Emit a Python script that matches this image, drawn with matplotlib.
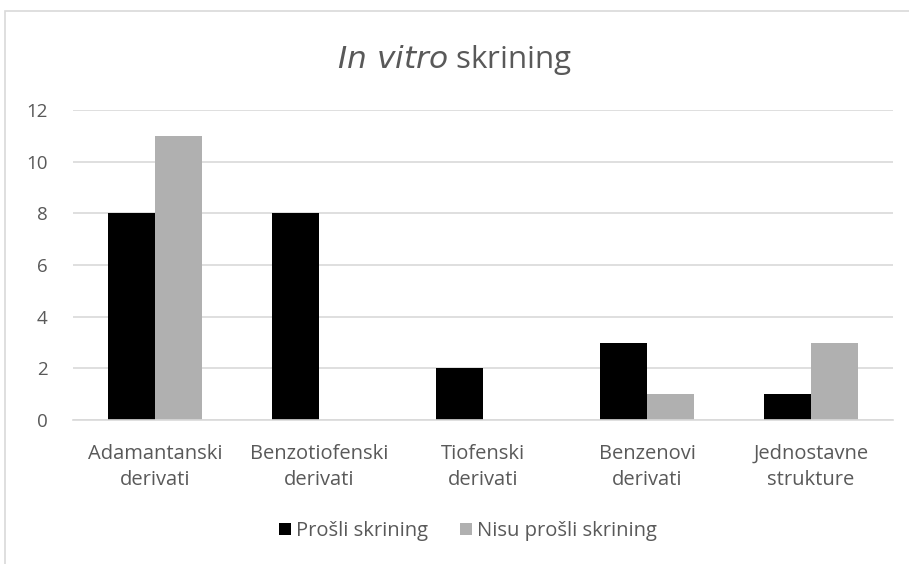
import numpy as np
import matplotlib
matplotlib.use('Agg')
import matplotlib.pyplot as plt
from matplotlib.patches import Rectangle

# ── Data ──────────────────────────────────────────────────────────────────────
categories = ['Adamantanski\nderivati', 'Benzotiofenski\nderivati', 'Tiofenski\nderivati',
              'Benzenovi\nderivati', 'Jednostavne\nstrukture']
passed = [8, 8, 2, 3, 1]
failed = [11, 0, 0, 1, 3]
series_names = ['Prošli skrining', 'Nisu prošli skrining']
yticks = [0, 2, 4, 6, 8, 10, 12]

plt.rcParams['font.family'] = ['Open Sans', 'DejaVu Sans']
txt = '#595959'
grid = '#D9D9D9'

fig = plt.figure(figsize=(9.09, 5.64), dpi=100)
# chart frame (Excel-style light border, cropped at right/bottom)
fig.patches.append(Rectangle((5 / 909, -0.1), 1.1, (564 - 11) / 564 + 0.1,
                             transform=fig.transFigure, fill=False,
                             edgecolor=grid, lw=1.2))

ax = fig.add_axes([73 / 909, (564 - 420) / 564, (893 - 73) / 909, (420 - 110) / 564])
x = np.arange(len(categories))
w = 0.285
ax.bar(x - w / 2, passed, w, color='black', label=series_names[0])
ax.bar(x + w / 2, failed, w, color='#B0B0B0', label=series_names[1])

ax.set_xlim(-0.5, len(categories) - 0.5)
ax.set_ylim(0, 12)
ax.set_yticks(yticks)
ax.yaxis.grid(True, color=grid, lw=1.2)
ax.set_axisbelow(True)
for s in ['top', 'right', 'left']:
    ax.spines[s].set_visible(False)
ax.spines['bottom'].set_color(grid)
ax.spines['bottom'].set_linewidth(1.2)
ax.tick_params(length=0, colors=txt)
ax.tick_params(axis='y', pad=18.5, labelsize=13.5)
ax.tick_params(axis='x', pad=17, labelsize=14.5)
ax.set_xticks(x)
ax.set_xticklabels(categories, linespacing=1.45)

fig.text(455 / 909, 1 - 68 / 564, r'$\it{In\ vitro}$ skrining', ha='center', va='baseline',
         fontsize=22.5, color=txt)

ax.legend(loc='center', bbox_to_anchor=(468 / 909, 1 - 531 / 564),
          bbox_transform=fig.transFigure, ncol=2, frameon=False,
          fontsize=14.5, labelcolor=txt, handlelength=0.6, handleheight=0.6,
          handletextpad=0.25, columnspacing=1.6)

fig.savefig('out.png', dpi=100)
